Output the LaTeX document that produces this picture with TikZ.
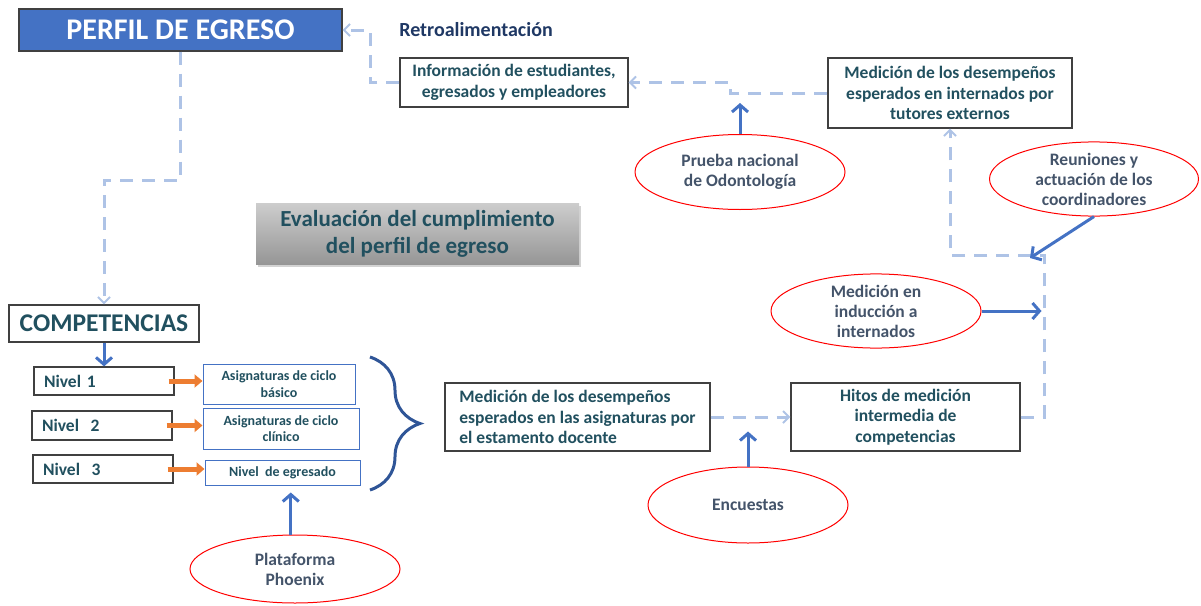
\documentclass[tikz,border=0pt]{standalone}
\usepackage{fontspec}
\setmainfont{Carlito}
\usetikzlibrary{arrows.meta,shapes.geometric,shadows,decorations.pathreplacing}

\definecolor{azulcaja}{RGB}{68,114,196}
\definecolor{azulclaro}{RGB}{174,195,230}
\definecolor{azulosc}{RGB}{47,85,151}
\definecolor{textoteal}{RGB}{33,80,95}
\definecolor{textogris}{RGB}{68,84,106}
\definecolor{marino}{RGB}{31,56,100}
\definecolor{naranja}{RGB}{237,125,49}
\definecolor{bordegris}{RGB}{64,64,64}

\tikzset{
  caja/.style={draw=bordegris,line width=1.2pt,fill=white,text=textoteal,
    font=\fontsize{17.5}{20.5}\selectfont\bfseries,align=center,inner sep=0pt},
  cajaazul/.style={draw=azulcaja,line width=1pt,fill=white,text=textoteal,
    font=\fontsize{14}{16.5}\selectfont\bfseries,align=center,inner sep=0pt},
  elipse/.style={ellipse,draw=red,line width=1pt,fill=white,text=textogris,
    font=\fontsize{17.5}{20}\selectfont\bfseries,align=center,inner sep=0pt},
  retro/.style={draw=azulclaro,line width=3pt,dash pattern=on 13pt off 9pt,
    -{Straight Barb[length=6pt,width=12pt,line width=2pt]}},
  flecha/.style={draw=azulcaja,line width=3pt,
    -{Straight Barb[length=7pt,width=16pt,line width=3pt]}},
  flechanar/.style={draw=naranja,line width=5pt,-{Triangle[length=8pt,width=13pt]}},
}

\begin{document}
\begin{tikzpicture}[x=1pt,y=-1pt]
\useasboundingbox (0,0) rectangle (1201,605);

% cajas principales
\node[draw=bordegris,line width=1.2pt,fill=azulcaja,text=white,
  font=\fontsize{30}{34}\selectfont\bfseries,minimum width=323pt,minimum height=42pt]
  (perfil) at (180.5,30) {PERFIL DE EGRESO};
\node[text=marino,font=\fontsize{20}{24}\selectfont\bfseries] (retroal) at (476,30) {Retroalimentación};
\node[caja,minimum width=228pt,minimum height=49pt] (info) at (514,82.5)
  {Información de estudiantes,\\ egresados y empleadores};
\node[caja,minimum width=244pt,minimum height=70pt] (tutores) at (950,93)
  {Medición de los desempeños\\ esperados en internados por\\ tutores externos};
\node[elipse,minimum width=210pt,minimum height=75pt] (prueba) at (740,172)
  {Prueba nacional\\ de Odontología};
\node[elipse,minimum width=209pt,minimum height=72pt] (reuniones) at (1094,179)
  {Reuniones y\\ actuación de los\\ coordinadores};
\node[top color={rgb,255:red,205;green,205;blue,205},bottom color={rgb,255:red,150;green,150;blue,150},
  drop shadow={opacity=0.35,shadow xshift=1.5pt,shadow yshift=-3pt},
  text=textoteal,font=\fontsize{23}{27}\selectfont\bfseries,align=center,
  minimum width=323pt,minimum height=61pt,inner sep=0pt] (evaluacion) at (417.5,233.5)
  {Evaluación del cumplimiento\\ del perfil de egreso};
\node[elipse,minimum width=210pt,minimum height=73pt] (induccion) at (876,311)
  {Medición en\\ inducción a\\ internados};

% competencias y niveles
\node[caja,font=\fontsize{25.5}{30}\selectfont\bfseries,minimum width=190pt,minimum height=37pt]
  (competencias) at (104,323.5) {COMPETENCIAS};
\node[caja,minimum width=140pt,minimum height=28pt,text width=120pt,align=left] (nivel1) at (104,381) {Nivel 1};
\node[caja,minimum width=140pt,minimum height=29pt,text width=120pt,align=left] (nivel2) at (102,425.5) {Nivel\ \ 2};
\node[caja,minimum width=140pt,minimum height=28pt,text width=120pt,align=left] (nivel3) at (103,469) {Nivel\ \ 3};
\node[cajaazul,minimum width=152pt,minimum height=40pt] (asig1) at (279,384) {Asignaturas de ciclo\\ básico};
\node[cajaazul,minimum width=156pt,minimum height=41pt] (asig2) at (281,428.5) {Asignaturas de ciclo\\ clínico};
\node[cajaazul,minimum width=155pt,minimum height=25pt] (asig3) at (282.5,472.5) {Nivel\ \ de egresado};

% medicion intermedia
\node[caja,minimum width=265pt,minimum height=68pt,align=left] (docente) at (577.5,417)
  {Medición de los desempeños\\ esperados en las asignaturas por\\ el estamento docente};
\node[caja,minimum width=229pt,minimum height=68pt] (hitos) at (905.5,417)
  {Hitos de medición\\ intermedia de\\ competencias};
\node[elipse,minimum width=200pt,minimum height=76pt] (encuestas) at (748,505) {Encuestas};
\node[elipse,minimum width=210pt,minimum height=68pt] (phoenix) at (295,569) {Plataforma\\ Phoenix};

% puntos de quiebre
\coordinate (q1) at (180.5,180);
\coordinate (q2) at (1044,255);
\coordinate (q3) at (730,93);
\coordinate (q4) at (370,82.5);
\coordinate (q5) at (1030,258);

% retroalimentacion (lineas claras)
\draw[retro] (perfil.south) -- (q1) -| (competencias.north);
\draw[retro] (hitos.east) -| (q2) -| (tutores.south);
\draw[retro] (tutores.west) -- (q3) |- (info.east);
\draw[retro] (info.west) -- (q4) |- (perfil.east);
\draw[retro] (docente.east) -- (hitos.west);

% flechas azules
\draw[flecha] (competencias.south) -- (nivel1.north);
\draw[flecha] (prueba.north) -- ++(0,-31);
\draw[flecha] (reuniones.south) -- (q5);
\draw[flecha] (induccion.east) -- ++(60,0);
\draw[flecha] (encuestas.north) -- ++(0,-35);
\draw[flecha,shorten >=7pt] (phoenix.97) -- (phoenix.97 |- asig3.south);

% flechas naranjas
\draw[flechanar,shorten <=-6pt] (nivel1.east) -- (nivel1.east -| asig1.west);
\draw[flechanar,shorten <=-6pt] (nivel2.east) -- (nivel2.east -| asig2.west);
\draw[flechanar,shorten <=-6pt] (nivel3.east) -- (nivel3.east -| asig3.west);

% llave
\draw[azulosc,line width=3pt,decorate,decoration={brace,amplitude=50pt}]
  (370,357) -- (370,490);
\end{tikzpicture}
\end{document}
